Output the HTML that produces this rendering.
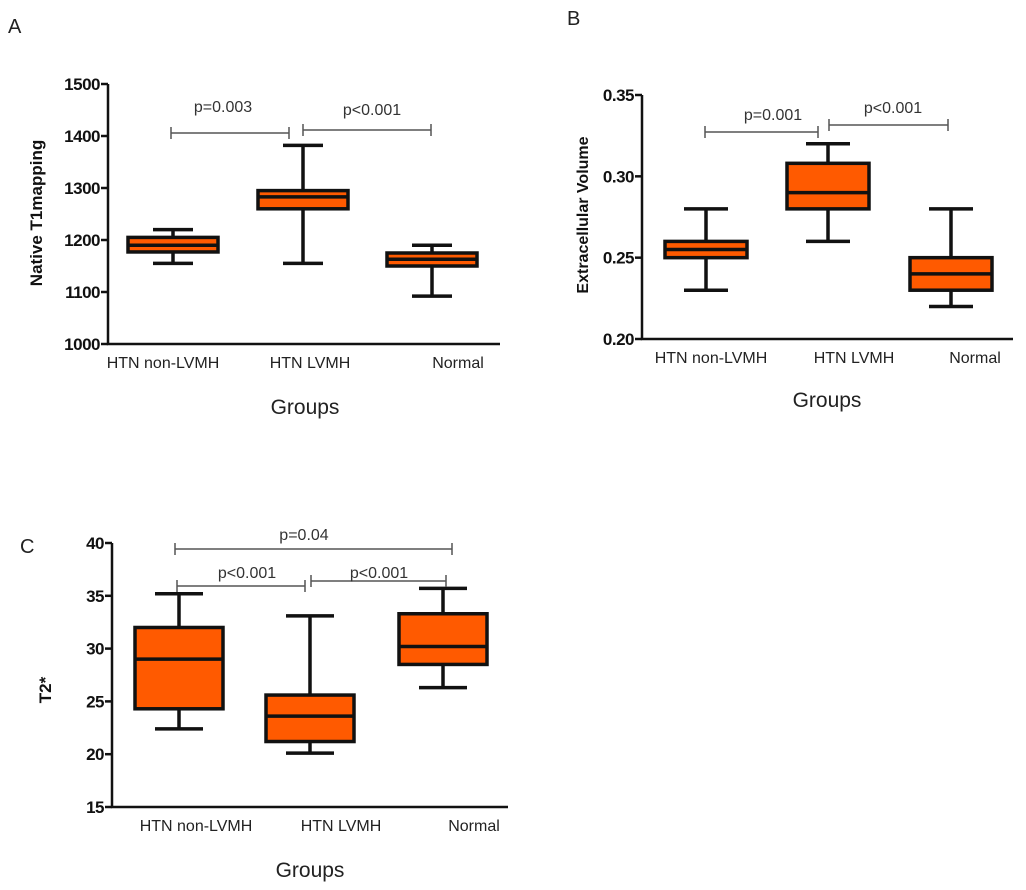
<!DOCTYPE html>
<html><head><meta charset="utf-8"><style>
html,body{margin:0;padding:0;background:#fff;}
svg{display:block;font-family:"Liberation Sans",Arial,sans-serif;}
</style></head><body>
<svg id="fig" width="1026" height="890" viewBox="0 0 1026 890"></svg>
<script>
const categories = ["HTN non-LVMH","HTN LVMH","Normal"];
// Panel A: Native T1 mapping
const aMin=[1155,1155,1092], aQ1=[1177,1260,1150], aMed=[1190,1283,1163], aQ3=[1205,1295,1175], aMax=[1220,1382,1190];
const aTicks=[1000,1100,1200,1300,1400,1500];
const aTickLabels=["1000","1100","1200","1300","1400","1500"];
// Panel B: ECV
const bMin=[0.23,0.26,0.22], bQ1=[0.25,0.28,0.23], bMed=[0.255,0.29,0.24], bQ3=[0.26,0.308,0.25], bMax=[0.28,0.32,0.28];
const bTicks=[0.20,0.25,0.30,0.35];
const bTickLabels=["0.20","0.25","0.30","0.35"];
// Panel C: T2*
const cMin=[22.4,20.1,26.3], cQ1=[24.3,21.2,28.5], cMed=[29,23.6,30.2], cQ3=[32,25.6,33.3], cMax=[35.2,33.1,35.7];
const cTicks=[15,20,25,30,35,40];
const cTickLabels=["15","20","25","30","35","40"];

const NS="http://www.w3.org/2000/svg";
const svg=document.getElementById('fig');
function mk(tag,attrs,parent,text){const e=document.createElementNS(NS,tag);for(const k in attrs)e.setAttribute(k,attrs[k]);if(text!==undefined)e.textContent=text;(parent||svg).appendChild(e);return e;}

function panel(cfg){
  const g=mk('g',{});
  
  
  const y=v=>cfg.y0+(v-cfg.vmin)/(cfg.vmax-cfg.vmin)*(cfg.y1-cfg.y0);
  const lt=mk('text',{x:cfg.letter[0],y:cfg.letter[1],'font-size':20,fill:'#222'},g,cfg.letterText);
  
  
  const ax=mk('path',{d:`M${cfg.ax},${y(cfg.vmax)}V${cfg.y0}H${cfg.xend}`,stroke:'#111','stroke-width':2.5,fill:'none'},g);
  
  
  cfg.ticks.forEach((t,i)=>{
    mk('line',{x1:cfg.ax-7,x2:cfg.ax,y1:y(t),y2:y(t),stroke:'#111','stroke-width':2.5},g);
    const tl=mk('text',{x:cfg.ax-8,y:y(t)+6,'font-size':17,'font-weight':'bold','text-anchor':'end',fill:'#111','letter-spacing':'-0.5'},g,cfg.tickLabels[i]);
    
    
  });
  const yt=mk('text',{x:cfg.ytx,y:cfg.yty,'font-size':cfg.ytfs||17,'font-weight':'bold','text-anchor':'middle',fill:'#111',transform:`rotate(-90 ${cfg.ytx} ${cfg.yty})`},g,cfg.ytitle);
  
  
  categories.forEach((c,i)=>{
    const cx=cfg.cx[i], w=cfg.bw, cap=cfg.cap;
    const bg=mk('g',{},g);
    
    
    const s={stroke:'#111','stroke-width':3.5};
    mk('line',Object.assign({x1:cx,x2:cx,y1:y(cfg.max[i]),y2:y(cfg.q3[i])},s),bg);
    mk('line',Object.assign({x1:cx,x2:cx,y1:y(cfg.q1[i]),y2:y(cfg.min[i])},s),bg);
    mk('line',Object.assign({x1:cx-cap,x2:cx+cap,y1:y(cfg.max[i]),y2:y(cfg.max[i])},s),bg);
    mk('line',Object.assign({x1:cx-cap,x2:cx+cap,y1:y(cfg.min[i]),y2:y(cfg.min[i])},s),bg);
    mk('rect',{x:cx-w/2,y:y(cfg.q3[i]),width:w,height:y(cfg.q1[i])-y(cfg.q3[i]),fill:'#ff5a00',stroke:'#111','stroke-width':3.5},bg);
    mk('line',Object.assign({x1:cx-w/2,x2:cx+w/2,y1:y(cfg.med[i]),y2:y(cfg.med[i])},s),bg);
    const xl=mk('text',{x:cfg.lx[i],y:cfg.ly,'font-size':16,'text-anchor':'middle',fill:'#222'},g,c);
    
    
  });
  const gt=mk('text',{x:cfg.gx,y:cfg.gy,'font-size':21,'text-anchor':'middle',fill:'#222'},g,'Groups');
  
  
  cfg.brackets.forEach(b=>{
    const bk=mk('g',{},g);
    
    
    mk('path',{d:`M${b[0]},${b[2]-6}v12M${b[0]},${b[2]}H${b[1]}M${b[1]},${b[2]-6}v12`,stroke:'#555','stroke-width':1.5,fill:'none'},bk);
    mk('text',{x:b[4],y:b[5],'font-size':16,'text-anchor':'middle',fill:'#333'},bk,b[3]);
  });
}

panel({name:'panel-a-native-t1',letterText:'A',letter:[8,33],vmin:1000,vmax:1500,y0:344,y1:84,ax:108,xend:500,
  ticks:aTicks,tickLabels:aTickLabels,min:aMin,q1:aQ1,med:aMed,q3:aQ3,max:aMax,
  cx:[173,303,432],bw:90,cap:20,lx:[163,310,458],ly:368,gx:305,gy:414,ytx:42,yty:213,ytitle:'Native T1mapping',
  brackets:[[171,289,133,'p=0.003',223,112],[303,431,130,'p<0.001',372,115]]});

panel({name:'panel-b-extracellular-volume',letterText:'B',letter:[567,25],vmin:0.20,vmax:0.35,y0:339,y1:95,ax:642,xend:1013,
  ticks:bTicks,tickLabels:bTickLabels,min:bMin,q1:bQ1,med:bMed,q3:bQ3,max:bMax,
  cx:[706,828,951],bw:82,cap:22,lx:[711,854,975],ly:363,gx:827,gy:407,ytx:588,yty:215,ytfs:16,ytitle:'Extracellular Volume',
  brackets:[[705,818,132,'p=0.001',773,120],[829,948,125,'p<0.001',893,113]]});

panel({name:'panel-c-t2-star',letterText:'C',letter:[20,553],vmin:15,vmax:40,y0:807,y1:543,ax:112,xend:508,
  ticks:cTicks,tickLabels:cTickLabels,min:cMin,q1:cQ1,med:cMed,q3:cQ3,max:cMax,
  cx:[179,310,443],bw:88,cap:24,lx:[196,341,474],ly:831,gx:310,gy:877,ytx:51,yty:690,ytitle:'T2*',
  brackets:[[175,452,549,'p=0.04',304,540],[177,305,586,'p<0.001',247,578],[311,446,581,'p<0.001',379,578]]});
</script>
</body></html>
